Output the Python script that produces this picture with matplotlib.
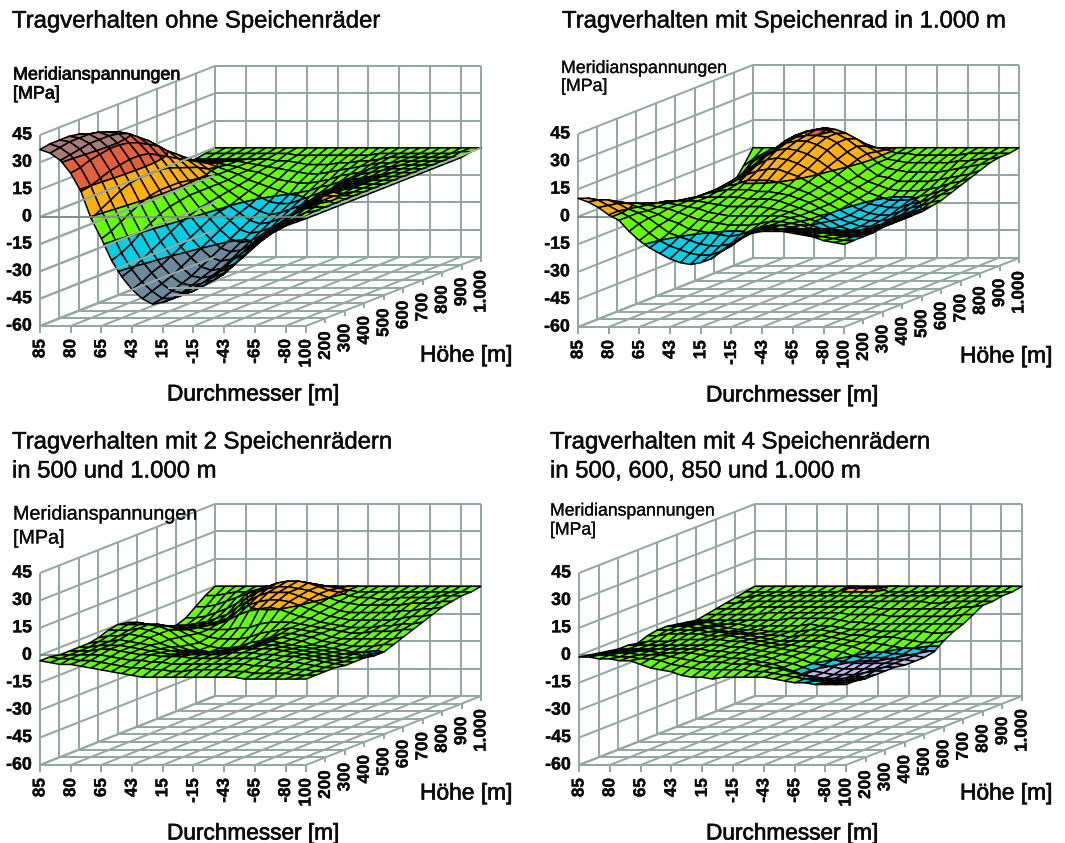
import numpy as np
import matplotlib
matplotlib.use("Agg")
import matplotlib.pyplot as plt
import matplotlib.patheffects as pe
from mpl_toolkits.mplot3d import Axes3D
from mpl_toolkits.mplot3d.art3d import Poly3DCollection, Line3DCollection

# ---------------- data (rows: height 100 m -> 1000 m, columns: diameter positions) ----------------
x_labels = ["85", "80", "65", "43", "15", "-15", "-43", "-65", "-80"]
y_labels = ["100", "200", "300", "400", "500", "600", "700", "800", "900", "1.000"]
z_ticks = [-60, -45, -30, -15, 0, 15, 30, 45]
titles = ["Tragverhalten ohne Speichenräder", "Tragverhalten mit Speichenrad in 1.000 m",
          "Tragverhalten mit 2 Speichenrädern\nin 500 und 1.000 m",
          "Tragverhalten mit 4 Speichenrädern\nin 500, 600, 850 und 1.000 m"]

z_ohne = [
 [37,35,31,24,14,-1,-12,-24,-33,-40,-45,-48,-47,-45,-42,-39,-36,-33,-28,-23,-19,-15,-11,-8,-5,-3,-1],
 [38,36,32,25,15,2,-10,-22,-31,-38,-43,-47,-47,-45,-43,-40,-37,-33,-28,-23,-18,-14,-10,-7,-4,-2,-1],
 [38,37,33,27,17,5,-7,-19,-28,-35,-41,-45,-46,-44,-42,-39,-36,-31,-26,-21,-16,-12,-8,-5,-2,-1,-1],
 [38,37,34,28,19,8,-4,-15,-25,-33,-39,-43,-44,-43,-40,-37,-33,-28,-23,-18,-13,-9,-5,-2,-1,-1,-1],
 [37,37,34,29,20,10,-1,-12,-22,-30,-36,-41,-42,-41,-38,-34,-30,-25,-20,-15,-11,-7,-4,-2,1,-1,-1],
 [35,36,34,29,21,11,1,-9,-19,-27,-33,-38,-40,-39,-36,-32,-27,-22,-17,-13,-9,-6,-3,1,1,-1,-1],
 [33,34,33,28,21,11,2,-7,-16,-24,-30,-35,-37,-36,-33,-29,-24,-20,-15,-11,-8,-5,-3,1,-1,-1,-1],
 [31,32,31,26,20,11,2,-6,-14,-21,-27,-32,-34,-33,-30,-26,-22,-18,-13,-10,-7,-4,-3,-2,-1,-1,-1],
 [28,28,27,23,17,10,2,-5,-12,-18,-24,-29,-31,-30,-27,-24,-20,-16,-12,-9,-6,-4,-2,-1,-1,-1,-1],
 [23,24,23,20,14,8,1,-5,-11,-16,-21,-26,-28,-27,-25,-22,-18,-14,-11,-8,-5,-3,-2,-1,-1,-1,-1],
 [17,18,18,15,11,6,0,-5,-10,-15,-19,-23,-25,-24,-22,-20,-16,-13,-10,-7,-5,-3,-2,-1,-1,-1,-1],
 [12,13,13,11,8,4,-1,-5,-9,-13,-17,-20,-22,-21,-19,-17,-14,-11,-9,-6,-4,-3,-2,-1,-1,-1,-1],
 [7,8,8,7,5,1,-2,-5,-8,-11,-14,-17,-18,-18,-16,-14,-12,-10,-7,-5,-4,-3,-2,-1,-1,-1,-1],
 [3,4,4,3,2,0,-2,-4,-7,-9,-11,-13,-15,-14,-13,-11,-10,-8,-6,-4,-3,-2,-1,-1,-1,-1,-1],
 [1,1,1,1,0,-1,-2,-4,-5,-7,-9,-10,-11,-11,-10,-9,-7,-6,-5,-3,-2,-2,-1,-1,-1,-1,-1],
 [-1,-1,-1,-1,-1,-1,-2,-3,-4,-5,-6,-7,-8,-8,-7,-6,-5,-4,-3,-2,-2,-1,-1,-1,-1,-1,-1],
 [-2,-2,-2,-2,-2,-2,-2,-2,-3,-3,-4,-5,-5,-5,-4,-4,-3,-3,-2,-1,-1,-1,-1,-1,-1,-1,-1],
 [-1,-1,-1,-1,-1,-1,-1,-1,-1,-2,-2,-2,-2,-2,-2,-2,-2,-1,-1,-1,-1,-1,-1,-1,-1,0,0],
 [0,0,0,0,0,0,0,0,0,0,0,0,0,0,0,0,0,0,0,0,0,0,0,0,0,0,0],
]
z_rad1000 = [
 [10,8,5,1,-2,-8,-13,-17,-20,-23,-25,-26,-25,-23,-19,-15,-11,-9,-8,-8,-8,-9,-10,-11,-13,-14,-15],
 [8,7,4,1,-2,-6,-11,-15,-18,-20,-22,-23,-23,-21,-18,-14,-11,-9,-9,-9,-10,-11,-12,-13,-14,-15,-15],
 [5,5,3,0,-2,-5,-9,-13,-15,-17,-19,-20,-20,-19,-16,-13,-10,-10,-11,-11,-12,-13,-13,-14,-15,-15,-15],
 [2,2,1,-1,-3,-5,-8,-10,-13,-14,-15,-16,-17,-16,-14,-12,-11,-11,-12,-13,-14,-15,-15,-16,-16,-16,-15],
 [-1,-1,-1,-2,-3,-4,-6,-8,-10,-11,-12,-13,-13,-13,-12,-11,-11,-12,-13,-15,-16,-17,-17,-17,-17,-16,-14],
 [-4,-4,-3,-3,-3,-4,-5,-6,-8,-9,-10,-10,-10,-10,-10,-10,-11,-13,-15,-17,-18,-19,-19,-18,-17,-16,-14],
 [-7,-6,-5,-4,-4,-4,-4,-5,-6,-7,-7,-7,-7,-8,-9,-10,-12,-14,-16,-19,-20,-21,-20,-19,-18,-16,-14],
 [-9,-8,-7,-6,-5,-4,-4,-4,-4,-4,-5,-5,-5,-6,-8,-10,-12,-14,-17,-20,-22,-22,-21,-20,-18,-16,-14],
 [-11,-10,-9,-7,-6,-4,-3,-2,-2,-2,-3,-3,-4,-5,-7,-9,-12,-15,-18,-20,-22,-22,-21,-19,-17,-15,-14],
 [-13,-12,-10,-8,-6,-4,-2,-1,1,1,1,0,-2,-4,-6,-9,-12,-15,-18,-20,-21,-21,-20,-18,-16,-15,-13],
 [-14,-13,-11,-9,-6,-3,-1,2,4,5,5,3,1,-2,-5,-8,-11,-14,-17,-19,-20,-20,-18,-16,-15,-13,-12],
 [-15,-14,-12,-9,-6,-2,1,5,8,9,8,6,3,0,-4,-7,-10,-13,-16,-17,-18,-18,-16,-15,-13,-11,-10],
 [-16,-15,-12,-9,-5,-1,3,8,11,12,11,9,6,2,-2,-6,-9,-12,-14,-16,-16,-16,-14,-13,-11,-10,-8],
 [-16,-15,-12,-8,-4,0,5,10,13,14,14,12,9,4,0,-5,-8,-10,-12,-13,-13,-13,-12,-11,-9,-8,-6],
 [-16,-14,-10,-6,-2,3,8,12,14,15,15,14,11,6,2,-3,-7,-8,-10,-10,-10,-10,-9,-8,-7,-6,-4],
 [-16,-12,-7,-3,1,5,10,13,15,16,16,14,11,7,3,-2,-5,-6,-7,-7,-7,-7,-6,-5,-4,-3,-2],
 [-15,-9,-3,0,3,6,10,12,14,15,14,12,9,5,2,-2,-3,-4,-4,-4,-4,-4,-3,-3,-2,-2,-1],
 [-8,-4,-1,0,2,3,5,7,8,8,7,6,4,2,1,-1,-1,-2,-2,-2,-2,-2,-1,-1,-1,-1,-1],
 [0,0,0,0,0,0,0,0,0,0,0,0,0,0,0,0,0,0,0,0,0,0,0,0,0,0,0],
]
z_rad500_1000 = [
 [-3,-4,-5,-5,-6,-7,-8,-9,-10,-11,-12,-12,-12,-12,-12,-12,-12,-12,-12,-12,-13,-13,-13,-13,-13,-13,-13],
 [-3,-4,-4,-5,-5,-6,-7,-8,-9,-9,-10,-10,-11,-11,-10,-10,-10,-10,-11,-11,-12,-12,-12,-12,-13,-13,-13],
 [-4,-4,-4,-4,-4,-5,-6,-7,-7,-8,-8,-9,-9,-9,-9,-9,-9,-9,-9,-10,-10,-11,-11,-12,-12,-13,-13],
 [-4,-4,-4,-3,-3,-4,-5,-6,-6,-7,-7,-7,-8,-8,-8,-8,-8,-8,-8,-9,-9,-10,-10,-11,-12,-13,-13],
 [-4,-4,-3,-3,-3,-4,-5,-6,-7,-8,-8,-8,-8,-8,-8,-7,-7,-7,-8,-8,-9,-9,-10,-11,-12,-13,-14],
 [-4,-3,-3,-2,-3,-4,-5,-7,-8,-9,-9,-9,-9,-9,-8,-7,-7,-7,-7,-8,-9,-10,-11,-12,-13,-14,-14],
 [-3,-2,-2,-1,-2,-3,-6,-8,-10,-11,-11,-11,-10,-10,-9,-8,-7,-7,-8,-9,-10,-11,-12,-13,-14,-14,-14],
 [-1,-1,-1,0,-1,-3,-6,-10,-12,-13,-13,-13,-12,-11,-10,-8,-7,-8,-9,-10,-11,-12,-13,-14,-14,-15,-15],
 [0,0,0,0,-1,-3,-7,-11,-14,-15,-15,-14,-13,-12,-10,-8,-7,-8,-9,-11,-12,-13,-14,-15,-15,-16,-15],
 [-1,-1,-2,-2,-3,-5,-8,-12,-14,-15,-15,-14,-12,-11,-9,-7,-7,-8,-9,-11,-12,-13,-14,-14,-14,-13,-13],
 [-3,-4,-5,-5,-6,-7,-9,-11,-12,-12,-12,-11,-9,-8,-7,-6,-7,-8,-9,-11,-12,-12,-12,-12,-12,-12,-11],
 [-6,-7,-8,-8,-8,-8,-9,-9,-9,-8,-8,-6,-5,-5,-5,-6,-7,-8,-9,-10,-11,-11,-10,-10,-10,-9,-9],
 [-9,-9,-9,-9,-9,-9,-8,-6,-3,-1,0,1,0,-2,-4,-5,-7,-8,-9,-10,-10,-10,-9,-9,-8,-8,-7],
 [-12,-12,-11,-10,-10,-9,-7,-3,0,2,3,3,2,0,-2,-4,-6,-7,-8,-8,-8,-8,-8,-7,-6,-6,-5],
 [-13,-13,-12,-11,-9,-7,-3,0,3,5,5,5,3,1,-1,-3,-5,-6,-6,-6,-6,-6,-5,-5,-4,-4,-3],
 [-11,-11,-10,-8,-6,-3,0,3,5,6,6,5,4,2,0,-2,-3,-4,-4,-4,-4,-4,-3,-3,-3,-2,-2],
 [-7,-7,-6,-4,-2,0,2,4,6,7,7,6,4,2,1,-1,-2,-2,-3,-3,-2,-2,-2,-2,-1,-1,-1],
 [-3,-3,-2,-1,-1,0,1,2,3,4,4,3,2,1,0,-1,-1,-1,-1,-1,-1,-1,-1,-1,-1,-1,-1],
 [0,0,0,0,0,0,0,0,0,0,0,0,0,0,0,0,0,0,0,0,0,0,0,0,0,0,0],
]
z_rad4 = [
 [-1,-1,-2,-2,-3,-3,-5,-7,-8,-9,-11,-12,-12,-13,-12,-12,-12,-12,-12,-13,-14,-15,-15,-16,-16,-16,-16],
 [-2,-2,-2,-3,-3,-4,-4,-5,-7,-8,-9,-10,-10,-10,-10,-10,-11,-11,-12,-13,-14,-15,-16,-17,-17,-17,-16],
 [-3,-3,-3,-3,-4,-4,-4,-5,-6,-7,-8,-8,-8,-9,-9,-9,-10,-11,-12,-14,-15,-17,-18,-18,-18,-17,-17],
 [-4,-4,-4,-4,-4,-5,-5,-5,-5,-6,-7,-7,-8,-8,-9,-10,-11,-13,-15,-17,-18,-19,-19,-19,-18,-18,-17],
 [-5,-5,-5,-5,-5,-5,-5,-5,-5,-6,-6,-7,-7,-8,-9,-10,-12,-13,-15,-17,-18,-19,-19,-19,-18,-17,-17],
 [-5,-5,-5,-5,-5,-5,-5,-5,-5,-5,-6,-6,-7,-8,-9,-10,-11,-13,-15,-16,-17,-18,-18,-18,-18,-17,-17],
 [-6,-5,-5,-5,-4,-4,-4,-4,-4,-5,-5,-6,-7,-8,-9,-10,-11,-12,-13,-15,-16,-17,-17,-17,-17,-17,-18],
 [-4,-4,-3,-3,-3,-3,-4,-4,-4,-5,-6,-7,-8,-9,-9,-10,-10,-11,-12,-13,-15,-16,-16,-16,-17,-17,-18],
 [-3,-3,-3,-3,-3,-4,-4,-5,-5,-6,-7,-8,-9,-9,-9,-9,-9,-10,-11,-12,-14,-15,-15,-16,-16,-17,-18],
 [-3,-3,-3,-4,-4,-5,-6,-6,-7,-7,-8,-8,-9,-8,-8,-8,-9,-10,-11,-12,-12,-13,-14,-15,-15,-16,-17],
 [-4,-4,-4,-5,-5,-6,-7,-7,-7,-8,-8,-8,-8,-7,-7,-8,-9,-10,-10,-11,-11,-11,-12,-13,-14,-14,-13],
 [-5,-5,-5,-6,-6,-6,-7,-7,-7,-7,-7,-7,-6,-7,-7,-8,-9,-9,-9,-10,-10,-10,-10,-10,-11,-11,-10],
 [-6,-6,-6,-6,-6,-6,-6,-6,-6,-5,-5,-5,-5,-5,-6,-7,-7,-8,-8,-8,-8,-8,-8,-8,-8,-8,-8],
 [-5,-5,-5,-5,-5,-5,-4,-4,-4,-4,-4,-4,-4,-4,-5,-5,-5,-5,-6,-6,-6,-6,-6,-6,-6,-5,-5],
 [-4,-4,-4,-4,-3,-3,-3,-3,-3,-3,-3,-3,-3,-3,-3,-3,-4,-4,-4,-4,-4,-4,-4,-4,-3,-3,-2],
 [-3,-3,-2,-2,-2,-2,-2,-2,-2,-2,-2,-2,-2,-2,-2,-2,-2,-2,-2,-2,-3,-3,-2,-2,-2,-2,-2],
 [-2,-2,-1,-1,-1,-1,-1,-1,-1,-1,-1,-1,-1,-1,-1,-1,-1,-1,-1,-1,-1,-1,-1,-1,-1,-1,-1],
 [-1,-1,-1,-1,-1,-1,-1,-1,-1,-1,1,1,1,1,-1,-1,-1,-1,-1,-1,-1,-1,-1,-1,-1,-1,-1],
 [0,0,0,0,0,0,0,0,0,0,0,0,0,0,0,0,0,0,0,0,0,0,0,0,0,0,0],
]
surfaces = [z_ohne, z_rad1000, z_rad500_1000, z_rad4]

# ---------------- style ----------------
W, H = 1065, 843
GRID = "#93A8A2"
BANDS = [(-60, -30, "#6C8A9C"), (-30, -15, "#00CFE6"), (-15, 0, "#66FF00"),
         (0, 15, "#FFB00C"), (15, 30, "#E2603E"), (30, 45, "#A87A78")]
BANDS_4 = [(-60, -16.6, "#B9B9E6"), (-16.6, -15, "#00CFE6"), (-15, 0, "#66FF00"),
           (0, 15, "#FFB00C"), (15, 30, "#E2603E"), (30, 45, "#A87A78")]
# pixel layout of each panel: front-left floor x, front-right floor x, back-left x, floor y, back floor y, top back y
PANELS = [(40, 306, 215, 326, 257, 66), (578, 844, 753, 327, 258, 65),
          (40, 306, 215, 765, 696, 504), (579, 846, 755, 765, 696, 504)]
NX, NY = 26, 18
x_tick_pos = [0, 3, 6, 9, 12, 15, 18, 21, 24]
y_tick_pos = [0, 2, 4, 6, 8, 10, 12, 14, 16, 18]


def oblique(layout, x, y, z):
    """Picture position (from the top left) of a data point of a panel."""
    fl, fr, bl, y0, y1, top = layout
    sz = (y1 - top) / 105.0
    return (fl + x * (fr - fl) / NX + y * (bl - fl) / NY,
            y0 - (z + 60) * sz - y * (y0 - y1) / NY)


class ObliqueAxes(Axes3D):
    """3D axes with the oblique projection of the chart: height is vertical, depth goes up to the right."""
    layout = None

    def get_proj(self):
        fl, fr, bl, y0, y1, top = self.layout
        sz = (y1 - top) / 105.0
        sx = (fr - fl) / NX
        dx = (bl - fl) / NY
        dy = (y0 - y1) / NY
        P = np.array([[sx, dx, 0, fl],
                      [0, dy, sz, H - y0 + 60 * sz],
                      [-1, 100, 0, 0],
                      [0, 0, 0, 1.0]])
        T = self.transData.get_affine().inverted().get_matrix()
        D = np.array([[T[0, 0], T[0, 1], 0, T[0, 2]],
                      [T[1, 0], T[1, 1], 0, T[1, 2]],
                      [0, 0, 1, 0],
                      [0, 0, 0, 1.0]])
        return D @ P


def clip_band(poly, lo, hi):
    out = poly
    for sign, lim in ((1, lo), (-1, hi)):
        res = []
        n = len(out)
        for i in range(n):
            a, b = out[i], out[(i + 1) % n]
            da, db = sign * (a[2] - lim), sign * (b[2] - lim)
            if da >= 0:
                res.append(a)
            if (da > 0 and db < 0) or (da < 0 and db > 0):
                t = da / (da - db)
                res.append(tuple(a[m] + t * (b[m] - a[m]) for m in range(3)))
        out = res
        if len(out) < 3:
            return []
    return out


def surface_polys(zgrid, bands):
    Z = np.array(zgrid, dtype=float)
    verts, cols = [], []
    for j in range(Z.shape[0] - 1):
        for i in range(Z.shape[1] - 1):
            quad = [(i, j, Z[j, i]), (i + 1, j, Z[j, i + 1]), (i + 1, j + 1, Z[j + 1, i + 1]), (i, j + 1, Z[j + 1, i])]
            for lo, hi, c in bands:
                p = clip_band(quad, lo, hi)
                if len(p) >= 3:
                    m = np.mean([v[2] for v in p])
                    if lo < m <= hi:
                        verts.append(np.array(p))
                        cols.append(c)
    return verts, cols


plt.rcParams["font.family"] = ["Liberation Sans", "DejaVu Sans"]
fig = plt.figure(figsize=(W / 100, H / 100), dpi=100, facecolor="white")


def add_lines(ax, segs, z=1, color=GRID, lw=1.45):
    lc = Line3DCollection(segs, colors=color, linewidths=lw, zorder=z)
    lc.set_clip_on(False)
    ax.add_collection3d(lc, autolim=False)


def wall_segments():
    segs = []
    for t in x_tick_pos + [NX]:
        segs.append([(t, NY, -60), (t, NY, 45)])
    for t in y_tick_pos:
        segs.append([(0, t, -60), (0, t, 45)])
    for v in z_ticks:
        segs.append([(0, 0, v), (0, NY, v)])
        segs.append([(0, NY, v), (NX, NY, v)])
    return segs


def floor_segments():
    segs = []
    for t in x_tick_pos + [NX]:
        segs.append([(t, 0, -60), (t, NY, -60)])
    for t in y_tick_pos:
        segs.append([(0, t, -60), (NX, t, -60)])
    return segs


def txt(x, y, s, size, stroke=0.0, **kw):
    kw.setdefault("va", "center")
    t = fig.text(x / W, 1 - y / H, s, fontsize=size, color="#0b0b0b", **kw)
    if stroke:
        t.set_path_effects([pe.withStroke(linewidth=stroke, foreground="#0b0b0b")])
    return t


for idx, layout in enumerate(PANELS):
    ax = fig.add_axes([0.02, 0.02, 0.3, 0.3], axes_class=ObliqueAxes, computed_zorder=False)
    ax.layout = layout
    ax.set_axis_off()
    ax.patch.set_visible(False)
    fl, fr, bl, y0, y1, top = layout
    sz = (y1 - top) / 105.0

    ticks = [[(t, 0, -60), (t, 0, -60 - 7 / sz)] for t in x_tick_pos + [NX]]
    ticks += [[(NX, t, -60), (NX, t, -60 - 5 / sz)] for t in y_tick_pos[1:]]
    add_lines(ax, wall_segments() + floor_segments() + ticks)
    add_lines(ax, [[(0, 0, 0), (NX, 0, 0)]], 1.5, "#66756F", 1.1)

    verts, cols = surface_polys(surfaces[idx], BANDS_4 if idx == 3 else BANDS)
    poly = Poly3DCollection(verts, facecolors=cols, edgecolors="black", linewidths=1.1, zsort="average", zorder=2)
    poly.set_clip_on(False)
    ax.add_collection3d(poly, autolim=False)

    if idx == 0:  # the first chart shows grid lines running through the surface
        over = [[(0, 0, v), (0, NY, v)] for v in z_ticks if v <= 0]
        over += [[(13 - t, t, -60), (NX, t, -60)] for t in y_tick_pos if 2 <= t <= 10]
        add_lines(ax, over, 3)
        add_lines(ax, [[(0, 0, 0), (NX, 0, 0)]], 3, "#7E8F89", 1.2)
        add_lines(ax, [[(NX, 0, 0), (NX, NY, 0)]], 3, "#A9BAB4", 1.2)

    # tick labels
    for t, s in zip(x_tick_pos, x_labels):
        px, py = oblique(layout, t, 0, -60)
        txt(px, py + 13, s, 12.3, 0.25, rotation=90, ha="center", va="top", fontweight="bold")
    for t, s in zip(y_tick_pos, y_labels):
        px, py = oblique(layout, NX, t, -60)
        txt(px, py + 13, s, 12.3, 0.25, rotation=90, ha="center", va="top", fontweight="bold")
    for v in z_ticks:
        px, py = oblique(layout, 0, 0, v)
        txt(px - 8, py, str(v), 12.8, 0.25, ha="right", fontweight="bold")


TITLE_X = [12, 562, 12, 550]
TITLE_Y = [21.5, 21.5, 442.5, 442.5]
for i, s in enumerate(titles):
    for n, part in enumerate(s.split("\n")):
        txt(TITLE_X[i], TITLE_Y[i] + n * 29, part, 17.2, 0.35)

MERID = [(13, 75, 94, 12.9, 0.55), (561, 68.5, 86.5, 12.8, 0.2), (13, 514, 538, 14.2, 0.2), (550, 511, 530, 12.7, 0.2)]
for x, y1_, y2_, size, st in MERID:
    txt(x, y1_, "Meridianspannungen", size, st)
    txt(x, y2_, "[MPa]", size, st)

for x, y in [(167, 394), (706, 395), (167, 833), (706, 833)]:
    txt(x, y, "Durchmesser [m]", 16.3, 0.5)
for x, y in [(420, 355), (960, 356), (420, 793), (960, 793)]:
    txt(x, y, "Höhe [m]", 16.4, 0.5)

fig.savefig("out.png", dpi=100)
